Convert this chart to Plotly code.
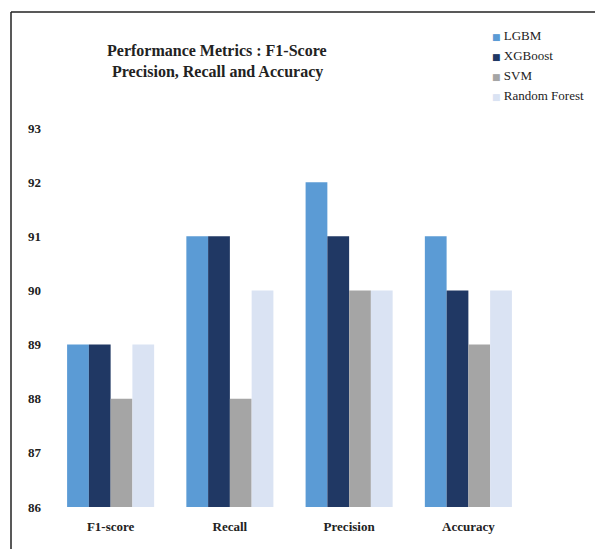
import plotly.graph_objects as go

categories = ["F1-score", "Recall", "Precision", "Accuracy"]
lgbm = [89, 91, 92, 91]
xgboost = [89, 91, 91, 90]
svm = [88, 88, 90, 89]
random_forest = [89, 90, 90, 90]
y_ticks = [86, 87, 88, 89, 90, 91, 92, 93]

series = [
    ("LGBM", lgbm, "#5B9BD5"),
    ("XGBoost", xgboost, "#203864"),
    ("SVM", svm, "#A5A5A5"),
    ("Random Forest", random_forest, "#DAE3F3"),
]

W, H = 595, 549
L, R, T, B = 51, 67, 128, 42
pw, ph = W - L - R, H - T - B

def px(x):
    return (x - L) / pw

def py(y):
    return (H - B - y) / ph

fig = go.Figure()
for name, vals, col in series:
    fig.add_trace(go.Bar(
        x=categories, y=[v - 86 for v in vals], base=86, name=name,
        marker=dict(color=col, line=dict(width=0)), showlegend=False,
    ))
for name, vals, col in series:
    fig.add_trace(go.Scatter(
        x=[None], y=[None], mode="markers",
        name=f"<span style='color:{col};font-family:DejaVu Sans;font-size:9px'>■</span> {name}",
        marker=dict(symbol="square", size=1, color="rgba(0,0,0,0)"),
    ))

font_family = "Liberation Serif, Times New Roman, serif"
fig.update_layout(
    width=W, height=H,
    margin=dict(l=L, r=R, t=T, b=B, autoexpand=False),
    paper_bgcolor="white", plot_bgcolor="white",
    barmode="group", bargap=0.27, bargroupgap=0,
    showlegend=True,
    legend=dict(
        x=px(452), y=py(20), xanchor="left", yanchor="top",
        font=dict(family=font_family, size=13, color="#222"),
        bgcolor="rgba(0,0,0,0)", itemwidth=30,
    ),
    xaxis=dict(
        showgrid=False, showline=False, zeroline=False, ticks="",
        ticklabelstandoff=10,
        tickfont=dict(family=font_family, size=13, color="#222", weight="bold"),
    ),
    yaxis=dict(
        range=[86, 93], tickvals=y_ticks, showgrid=False, showline=False,
        zeroline=False, ticks="", ticklabelstandoff=9,
        tickfont=dict(family=font_family, size=13, color="#222", weight="bold"),
    ),
    annotations=[
        dict(text="<b>Performance Metrics : F1-Score</b>", x=px(217), y=py(50),
             xref="paper", yref="paper", xanchor="center", yanchor="middle",
             showarrow=False, font=dict(family=font_family, size=16, color="#222")),
        dict(text="<b>Precision, Recall and Accuracy</b>", x=px(217), y=py(72),
             xref="paper", yref="paper", xanchor="center", yanchor="middle",
             showarrow=False, font=dict(family=font_family, size=16, color="#222")),
    ],
    shapes=[
        dict(type="line", xref="paper", yref="paper", x0=px(11), x1=px(600),
             y0=py(12), y1=py(12), line=dict(color="#222", width=1.5)),
        dict(type="line", xref="paper", yref="paper", x0=px(11), x1=px(11),
             y0=py(12), y1=py(560), line=dict(color="#222", width=1.5)),
    ],
)

fig.write_html("out.html")
